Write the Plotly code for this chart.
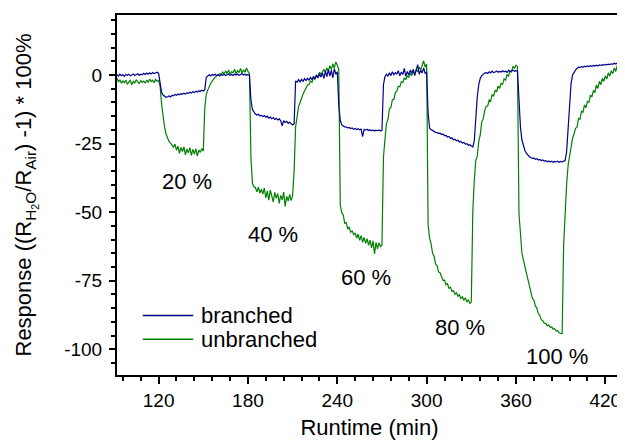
import plotly.graph_objects as go

# ---------------- data ----------------
runtime_min = [
    92, 93, 94, 95, 96, 97, 98, 99,
    100, 101, 102, 103, 104, 105, 106, 107, 108, 109,
    110, 111, 112, 113, 114, 115, 116, 117, 118, 119,
    120, 121, 122, 123, 124, 125, 126, 127, 128, 129,
    130, 131, 132, 133, 134, 135, 136, 137, 138, 139,
    140, 141, 142, 143, 144, 145, 146, 147, 148, 149,
    150, 151, 152, 153, 154, 155, 156, 157, 158, 159,
    160, 161, 162, 163, 164, 165, 166, 167, 168, 169,
    170, 171, 172, 173, 174, 175, 176, 177, 178, 179,
    180, 181, 182, 183, 184, 185, 186, 187, 188, 189,
    190, 191, 192, 193, 194, 195, 196, 197, 198, 199,
    200, 201, 202, 203, 204, 205, 206, 207, 208, 209,
    210, 211, 212, 213, 214, 215, 216, 217, 218, 219,
    220, 221, 222, 223, 224, 225, 226, 227, 228, 229,
    230, 231, 232, 233, 234, 235, 236, 237, 238, 239,
    240, 241, 242, 243, 244, 245, 246, 247, 248, 249,
    250, 251, 252, 253, 254, 255, 256, 257, 258, 259,
    260, 261, 262, 263, 264, 265, 266, 267, 268, 269,
    270, 271, 272, 273, 274, 275, 276, 277, 278, 279,
    280, 281, 282, 283, 284, 285, 286, 287, 288, 289,
    290, 291, 292, 293, 294, 295, 296, 297, 298, 299,
    300, 301, 302, 303, 304, 305, 306, 307, 308, 309,
    310, 311, 312, 313, 314, 315, 316, 317, 318, 319,
    320, 321, 322, 323, 324, 325, 326, 327, 328, 329,
    330, 331, 332, 333, 334, 335, 336, 337, 338, 339,
    340, 341, 342, 343, 344, 345, 346, 347, 348, 349,
    350, 351, 352, 353, 354, 355, 356, 357, 358, 359,
    360, 361, 362, 363, 364, 365, 366, 367, 368, 369,
    370, 371, 372, 373, 374, 375, 376, 377, 378, 379,
    380, 381, 382, 383, 384, 385, 386, 387, 388, 389,
    390, 391, 392, 393, 394, 395, 396, 397, 398, 399,
    400, 401, 402, 403, 404, 405, 406, 407, 408, 409,
    410, 411, 412, 413, 414, 415, 416, 417, 418, 419,
    420, 421, 422, 423, 424, 425, 426, 427, 428, 429,
    430, 431,
]

branched = [
    0.2, -0.4, 0.3, -0.2, 0.1, -0.5, 0.2, -0.1,
    0.3, -0.3, 0.0, 0.4, -0.2, 0.2, 0.5, -0.1, 0.3, 0.1,
    0.6, 0.2, 0.7, 0.3, 0.8, 0.4, 0.9, 0.5, 0.7, 1.0,
    0.6, -4.0, -6.3, -7.3, -7.8, -8.1, -7.9, -7.6, -8.0, -7.4,
    -7.5, -7.1, -7.4, -6.9, -7.2, -6.8, -7.0, -6.6, -6.9, -6.5,
    -6.7, -6.3, -6.6, -6.1, -6.4, -5.9, -6.2, -5.7, -6.0, -5.5,
    -5.8, -5.4, -0.8, -0.2, 0.1, -0.3, 0.2, -0.1, 0.3, -0.2,
    0.1, -0.3, 0.2, -0.1, 0.3, -0.2, 0.1, 0.4, -0.1, 0.2,
    -0.2, 0.3, 0.0, 0.4, -0.1, 0.2, 0.5, 0.0, 0.3, -0.1,
    0.2, -0.1, -9.0, -12.6, -13.7, -14.2, -14.6, -14.3, -14.9, -14.7,
    -15.1, -14.8, -15.4, -15.0, -15.7, -15.3, -15.9, -15.5, -16.2, -15.8,
    -16.4, -16.0, -16.7, -18.5, -16.6, -17.3, -16.9, -17.6, -17.2, -17.9,
    -18.2, -17.8, -2.2, -2.6, -1.7, -2.5, -1.6, -2.3, -1.3, -2.0,
    -1.2, -1.9, -0.9, -1.7, -0.5, -1.4, 0.0, -1.1, 0.4, -0.7,
    0.8, -1.2, 1.5, -0.6, 2.0, -0.4, 1.8, -1.0, 2.3, 0.3,
    1.2, -11.0, -16.5, -18.2, -18.6, -18.9, -19.0, -19.3, -19.1, -19.5,
    -19.3, -19.8, -19.5, -19.9, -19.6, -20.0, -19.7, -22.5, -19.8, -20.1,
    -19.8, -20.2, -19.9, -20.3, -20.0, -20.4, -20.1, -20.3, -20.0, -20.4,
    -20.2, -3.5, -0.6, 0.3, -0.4, 0.8, -0.2, 1.2, 0.1, 0.9,
    0.4, 1.6, -0.3, 1.1, 0.2, 2.4, -0.5, 1.3, 0.0, 1.8,
    0.6, 2.1, -0.2, 1.4, 3.8, 0.3, 1.7, 0.8, 2.6, 0.5,
    1.2, -14.0, -19.4, -19.9, -20.3, -20.6, -20.9, -21.0, -21.3, -21.2,
    -21.7, -21.5, -22.1, -22.0, -22.6, -22.4, -23.1, -22.9, -23.6, -23.4,
    -24.0, -23.8, -24.4, -24.2, -24.8, -24.6, -25.2, -25.0, -25.6, -25.4,
    -26.0, -26.2, -24.0, -15.0, -8.0, -3.5, -1.2, -0.2, 0.4, 0.7,
    0.9, 0.6, 1.2, 0.8, 1.4, 0.9, 1.1, 1.5, 1.0, 1.3,
    1.1, 1.6, 1.2, 1.4, 1.0, 1.7, 1.3, 1.5, 1.8, 1.4,
    1.6, 1.5, -11.5, -19.0, -23.7, -26.0, -27.5, -28.5, -29.2, -29.8,
    -30.1, -30.4, -30.3, -30.7, -30.5, -31.0, -30.8, -31.2, -31.0, -31.4,
    -31.2, -31.6, -31.3, -31.7, -31.4, -31.8, -31.5, -31.7, -31.4, -31.8,
    -31.5, -31.7, -31.4, -31.2, -28.0, -20.0, -9.0, -3.0, 0.0, 1.0,
    1.8, 2.4, 2.9, 2.7, 3.1, 2.8, 3.2, 3.0, 3.3, 3.1,
    3.4, 3.2, 3.5, 3.3, 3.6, 3.4, 3.7, 3.5, 3.8, 3.6,
    3.9, 3.7, 4.0, 3.8, 4.1, 3.9, 4.3, 4.0, 4.4, 4.2,
    4.5, 4.3,
]

unbranched = [
    -1.2, -2.4, -1.8, -3.0, -2.2, -2.8, -1.9, -3.4,
    -2.6, -2.0, -3.6, -2.3, -2.9, -1.7, -2.5, -3.1, -2.0, -2.7,
    -2.2, -3.0, -1.8, -2.6, -1.5, -2.4, -1.9, -2.8, -1.6, -2.3,
    -2.0, -4.0, -10.5, -15.0, -19.0, -21.5, -23.0, -24.2, -24.8, -25.6,
    -26.3, -25.2, -27.4, -26.0, -28.6, -26.4, -27.9, -26.2, -29.1, -27.0,
    -28.4, -26.5, -29.3, -27.1, -28.8, -26.9, -29.6, -27.4, -28.2, -26.8,
    -27.8, -12.0, -7.0, -5.5, -4.0, -3.0, -2.2, -1.4, -0.8, -0.3,
    0.1, 0.5, 0.2, 1.1, 0.4, 1.4, 0.6, 1.8, 0.3, 1.2,
    0.8, 2.1, 0.5, 1.6, 0.9, 2.4, 0.7, 1.9, 1.0, 2.6,
    1.3, 0.6, -30.0, -39.5, -40.8, -41.0, -42.6, -40.9, -43.1, -41.6,
    -43.4, -41.2, -44.8, -42.3, -45.6, -42.0, -44.1, -46.3, -42.8, -45.0,
    -43.2, -46.8, -43.9, -45.5, -42.7, -47.9, -44.2, -46.0, -43.5, -45.8,
    -44.0, -35.0, -19.0, -14.0, -11.5, -10.0, -8.3, -7.0, -5.8, -4.8,
    -3.6, -3.5, -2.2, -2.6, -1.0, -1.5, 0.0, -0.7, 1.0, 0.3,
    1.0, 2.0, 1.2, 2.6, 1.5, 3.4, 2.0, 4.1, 2.5, 4.8,
    3.6, 2.0, -47.4, -50.2, -51.0, -54.1, -53.8, -56.2, -55.4, -57.3,
    -56.9, -58.2, -57.6, -59.5, -58.0, -60.3, -58.6, -61.0, -59.2, -61.4,
    -59.7, -62.1, -60.2, -63.0, -60.5, -65.2, -61.0, -63.4, -61.2, -62.6,
    -62.0, -30.0, -23.6, -17.8, -16.2, -12.4, -11.8, -9.0, -8.9, -6.4,
    -5.9, -4.1, -4.3, -2.5, -2.7, -1.0, -1.7, -0.2, -0.9, 0.6,
    -0.2, 1.3, 0.5, 2.0, 1.2, 2.9, 1.8, 3.6, 5.2, 2.9,
    4.0, -54.7, -59.5, -61.6, -65.0, -66.1, -68.9, -69.5, -71.8, -72.1,
    -73.2, -74.9, -74.8, -76.5, -76.1, -77.8, -77.4, -78.9, -78.6, -79.9,
    -79.4, -80.7, -80.1, -81.6, -80.8, -82.2, -81.2, -82.8, -81.9, -83.3,
    -82.8, -50.0, -38.4, -31.2, -29.6, -24.2, -21.8, -17.1, -16.0, -12.9,
    -11.4, -11.3, -9.1, -9.5, -7.2, -7.6, -5.5, -6.1, -4.0, -4.9,
    -3.0, -3.4, -1.4, -1.9, 0.1, -0.4, 1.6, 1.0, 3.2, 2.5,
    3.6, 3.0, -50.4, -60.0, -65.0, -67.5, -70.0, -72.3, -75.0, -77.5,
    -79.3, -81.5, -82.0, -84.2, -85.0, -87.0, -87.7, -89.2, -89.6, -90.5,
    -90.6, -91.4, -91.2, -92.0, -91.9, -92.7, -92.5, -93.3, -93.2, -94.0,
    -94.2, -94.3, -62.0, -48.0, -40.0, -33.0, -29.0, -25.5, -23.0, -21.5,
    -19.4, -19.0, -15.8, -16.1, -13.2, -13.6, -10.9, -11.9, -9.6, -9.9,
    -7.3, -8.0, -5.6, -6.4, -3.6, -4.9, -2.3, -3.5, -1.2, -2.3,
    -0.3, -1.4, 0.8, -0.4, 1.6, 0.5, 2.6, 1.3, 3.5, 2.2,
    4.4, 3.6,
]

humidity_labels = ["20 %", "40 %", "60 %", "80 %", "100 %"]
humidity_label_x = [139.1, 196.8, 259.3, 322.6, 387.6]
humidity_label_y = [-39.0, -58.3, -74.0, -91.9, -102.7]

x_tick_vals = [120, 180, 240, 300, 360, 420]
y_tick_vals = [0, -25, -50, -75, -100]
y_tick_text = ["0", "-25", "-50", "-75", "-100"]

series_names = ["branched", "unbranched"]
series_colors = ["#00008C", "#008000"]

assert len(runtime_min) == len(branched) == len(unbranched)

FONT = "Arial, 'Liberation Sans', Helvetica, sans-serif"

fig = go.Figure()
fig.add_trace(go.Scatter(x=runtime_min, y=unbranched, mode="lines",
                         name=series_names[1], showlegend=False,
                         line=dict(color=series_colors[1], width=1.2)))
fig.add_trace(go.Scatter(x=runtime_min, y=branched, mode="lines",
                         name=series_names[0], showlegend=False,
                         line=dict(color=series_colors[0], width=1.2)))

# percentage labels
for txt, lx, ly in zip(humidity_labels, humidity_label_x, humidity_label_y):
    fig.add_annotation(x=lx, y=ly, xref="x", yref="y", text=txt,
                       showarrow=False, font=dict(size=22, color="black", family=FONT),
                       xanchor="center", yanchor="middle")

# legend (drawn in paper coordinates)
legend_rows_y = [0.165, 0.099]
for name, col, ly in zip(series_names, series_colors, legend_rows_y):
    fig.add_shape(type="line", xref="paper", yref="paper",
                  x0=0.051, x1=0.151, y0=ly, y1=ly,
                  line=dict(color=col, width=1.5))
    fig.add_annotation(x=0.163, y=ly, xref="paper", yref="paper", text=name,
                       showarrow=False, xanchor="left", yanchor="middle",
                       font=dict(size=22, color="black", family=FONT))

axis_common = dict(
    showline=True, linewidth=2, linecolor="black", mirror=True,
    showgrid=False, zeroline=False, ticks="outside", tickwidth=2,
    tickcolor="black", automargin=False,
)

# the page adds an 8 px body margin, so the figure is 8 px smaller
fig.update_layout(
    width=617, height=432,
    margin=dict(l=109, r=3, t=7, b=65),
    paper_bgcolor="white", plot_bgcolor="white",
    font=dict(family=FONT, color="black"),
    showlegend=False,
    xaxis=dict(
        range=[92.06, 431.2], tickmode="array", tickvals=x_tick_vals,
        ticklen=7, tickfont=dict(size=19),
        minor=dict(tickmode="linear", tick0=0, dtick=12, ticks="outside",
                   ticklen=4, tickwidth=2, tickcolor="black", showgrid=False),
        title=dict(text="Runtime (min)", font=dict(size=22), standoff=14),
        **axis_common,
    ),
    yaxis=dict(
        range=[-109.4, 21.9], tickmode="array", tickvals=y_tick_vals,
        ticktext=y_tick_text, ticklen=6, tickfont=dict(size=19),
        ticklabelstandoff=3,
        minor=dict(tickmode="linear", tick0=0, dtick=5, ticks="outside",
                   ticklen=4, tickwidth=2, tickcolor="black", showgrid=False),
        title=dict(text="Response ((R<sub>H<sub>2</sub>O</sub>/R<sub>Air</sub>) -1) * 100%",
                   font=dict(size=22), standoff=26),
        **axis_common,
    ),
)

fig.write_html("out.html")
